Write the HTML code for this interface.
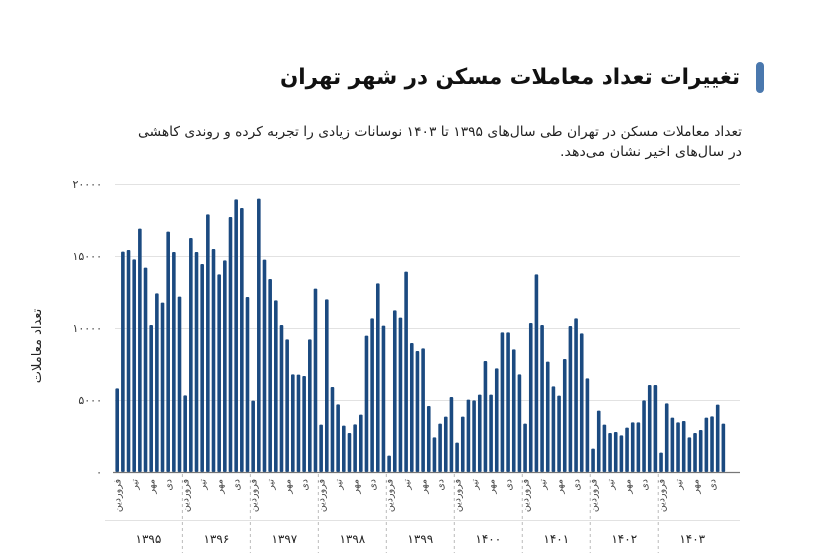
<!DOCTYPE html>
<html><head><meta charset="utf-8"><style>
body{margin:0;width:827px;height:553px;background:#fff;overflow:hidden;position:relative;font-family:"DejaVu Sans","Noto Sans CJK SC",sans-serif;}
svg{position:absolute;left:0;top:0}
</style></head><body>
<svg width="827" height="553" xmlns="http://www.w3.org/2000/svg" id="s" font-family="DejaVu Sans, sans-serif">
<rect x="756" y="62" width="8" height="31" rx="4" fill="#4a78ae"/>
<text x="740" y="84" direction="rtl" text-anchor="start" font-size="22" font-weight="bold" fill="#111" textLength="460" lengthAdjust="spacingAndGlyphs">تغییرات تعداد معاملات مسکن در شهر تهران</text>
<text x="742" y="136" direction="rtl" font-size="13.5" fill="#222" textLength="604" lengthAdjust="spacingAndGlyphs">تعداد معاملات مسکن در تهران طی سال‌های ۱۳۹۵ تا ۱۴۰۳ نوسانات زیادی را تجربه کرده و روندی کاهشی</text>
<text x="742" y="156" direction="rtl" font-size="13.5" fill="#222" textLength="182" lengthAdjust="spacingAndGlyphs">در سال‌های اخیر نشان می‌دهد.</text>
<g stroke="#e2e2e2" stroke-width="1">
<line x1="115" x2="740" y1="184.5" y2="184.5"/><line x1="115" x2="740" y1="256.5" y2="256.5"/><line x1="115" x2="740" y1="328.5" y2="328.5"/><line x1="115" x2="740" y1="400.5" y2="400.5"/>
<line x1="105" x2="740" y1="520.5" y2="520.5"/>
</g>
<g font-size="11" fill="#333" text-anchor="end">
<text x="102" y="188">۲۰۰۰۰</text><text x="102" y="260">۱۵۰۰۰</text><text x="102" y="332">۱۰۰۰۰</text><text x="102" y="404">۵۰۰۰</text><text x="102" y="476">۰</text>
</g>
<text transform="translate(41,346) rotate(-90)" text-anchor="middle" font-size="13" fill="#222">تعداد معاملات</text>
<g id="bars" fill="#1b4a80"></g>
<line x1="113" x2="740" y1="472.5" y2="472.5" stroke="#777" stroke-width="1.2"/>
<g id="xl"></g>
</svg>
<script>
(function(){
var z=[655,245,240,268,176,293,465,370,398,185,246,380,676,204,246,282,133,237,313,271,141,88,114,381,692,86,269,327,391,465,508,613,614,618,508,356,764,388,651,703,767,789,763,734,497,445,340,467,857,421,443,305,519,543,
535,708,802,761,740,681,818,740,689,691,674,573,674,595,487,487,538,613,761,459,313,465,575,649,677,567,468,445,490,625,836,722,764,789,786,796,773,757,757,691,645,645,848,700,743,757,753,802,789,780,743,739,704,761];
var ns="http://www.w3.org/2000/svg",b=document.getElementById('bars'),xl=document.getElementById('xl');
function el(t,a,p,tx){var e=document.createElementNS(ns,t);for(var k in a)e.setAttribute(k,a[k]);if(tx)e.textContent=tx;p.appendChild(e);return e;}
for(var i=0;i<108;i++){var cx=117.2+i*5.665,ty=170+z[i]/3;el('rect',{x:(cx-1.8).toFixed(2),y:ty.toFixed(2),width:3.6,height:(472-ty).toFixed(2),rx:1},b);}
var yrs=['۱۳۹۵','۱۳۹۶','۱۳۹۷','۱۳۹۸','۱۳۹۹','۱۴۰۰','۱۴۰۱','۱۴۰۲','۱۴۰۳'],ms=['فروردین','تیر','مهر','دی'];
for(var y=0;y<9;y++){var x0=114.4+y*67.98;
 if(y>0)el('line',{x1:x0,x2:x0,y1:474,y2:553,stroke:'#bbb','stroke-dasharray':'3,3','stroke-width':1},xl);
 el('text',{x:x0+34,y:543,'text-anchor':'middle','font-size':12,fill:'#222'},xl,yrs[y]);
 for(var m=0;m<4;m++){var cx=117.2+(y*12+m*3)*5.665+3.5;
  el('text',{transform:'translate('+cx+',479) rotate(-90)','text-anchor':'end','font-size':9.5,fill:'#444'},xl,ms[m]);}
}
})();
</script>
</body></html>
